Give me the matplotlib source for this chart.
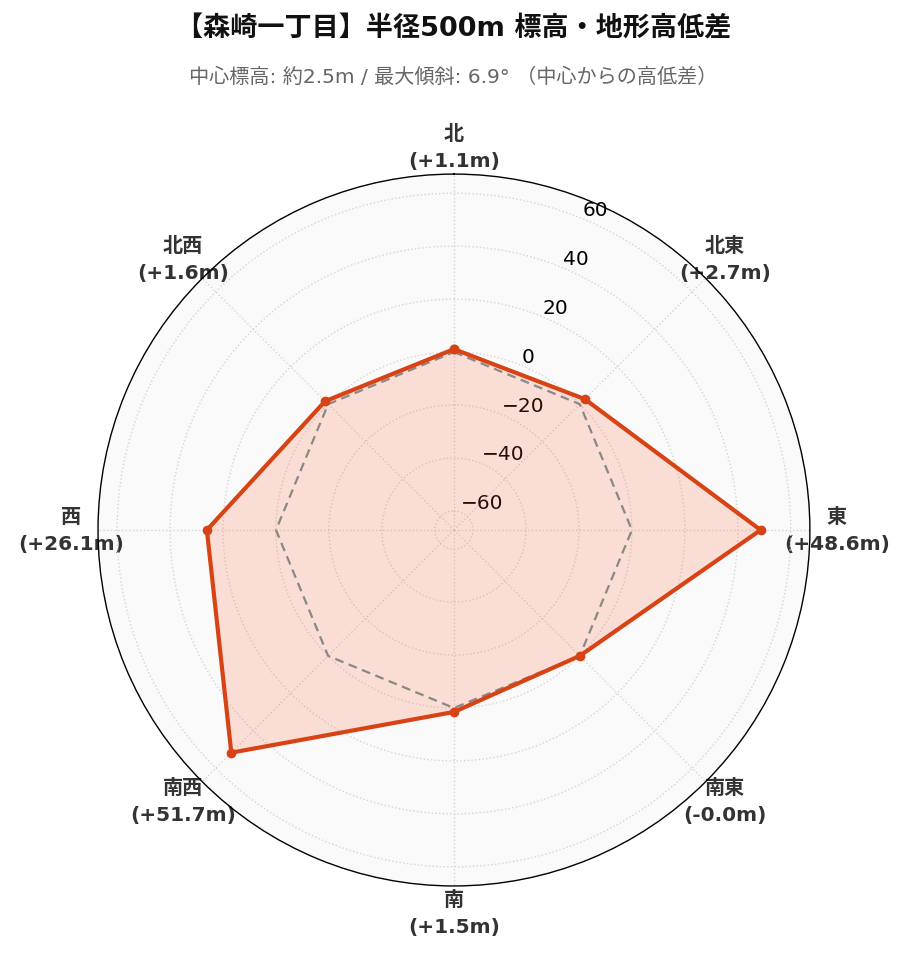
import numpy as np
import matplotlib
matplotlib.use("Agg")
import matplotlib.pyplot as plt

plt.rcParams['font.family'] = ['DejaVu Sans', 'Noto Sans CJK JP']

directions = ['北', '北東', '東', '南東', '南', '南西', '西', '北西']
diffs = [1.1, 2.7, 48.6, -0.0, 1.5, 51.7, 26.1, 1.6]
diff_labels = ['+1.1', '+2.7', '+48.6', '-0.0', '+1.5', '+51.7', '+26.1', '+1.6']
rticks = [-60, -40, -20, 0, 20, 40, 60]
title = '【森崎一丁目】半径500m 標高・地形高低差'
subtitle = '中心標高: 約2.5m / 最大傾斜: 6.9° （中心からの高低差）'

line_c = '#d84315'
fill_c = '#ff5722'
n = len(directions)
angles = np.linspace(0, 2 * np.pi, n, endpoint=False)
ang_c = np.concatenate([angles, angles[:1]])
vals_c = np.concatenate([diffs, diffs[:1]])

fig = plt.figure(figsize=(9.07, 9.62), dpi=100)
ax = fig.add_axes([0.108, 0.078, 0.785, 0.740], projection='polar')
ax.set_theta_zero_location('N')
ax.set_theta_direction(-1)
lim = max(abs(v) for v in diffs) * 1.3
ax.set_ylim(-lim, lim)
ax.set_facecolor('#fafafa')

ax.plot(ang_c, np.zeros_like(ang_c), linestyle=(0, (4, 2.5)), color='#888888', linewidth=1.6, zorder=3)
ax.fill(ang_c, vals_c, color=fill_c, alpha=0.17, zorder=2)
ax.plot(ang_c, vals_c, color=line_c, linewidth=3, marker='o', markersize=6, zorder=4)

ax.set_xticks(angles)
ax.set_xticklabels([f'{d}\n({l}m)' for d, l in zip(directions, diff_labels)],
                   fontsize=14.5, fontweight='bold', color='#333333', linespacing=1.55)
ax.tick_params(axis='x', pad=9)
ax.set_yticks(rticks)
ax.set_yticklabels([str(t).replace('-', '\u2212') for t in rticks], fontsize=14.5)
ax.set_rlabel_position(22.5)
ax.grid(True, linestyle=':', color='#d5d5d5', linewidth=1.0)
ax.spines['polar'].set_color('black')
ax.spines['polar'].set_linewidth(1.0)

fig.text(0.5, 0.9695, title, ha='center', va='center', fontsize=19.5, fontweight='bold',
         color='#111111')
fig.text(0.5, 0.920, subtitle, ha='center', va='center', fontsize=14.5,
         color='#666666')

fig.savefig('out.png', dpi=100)
